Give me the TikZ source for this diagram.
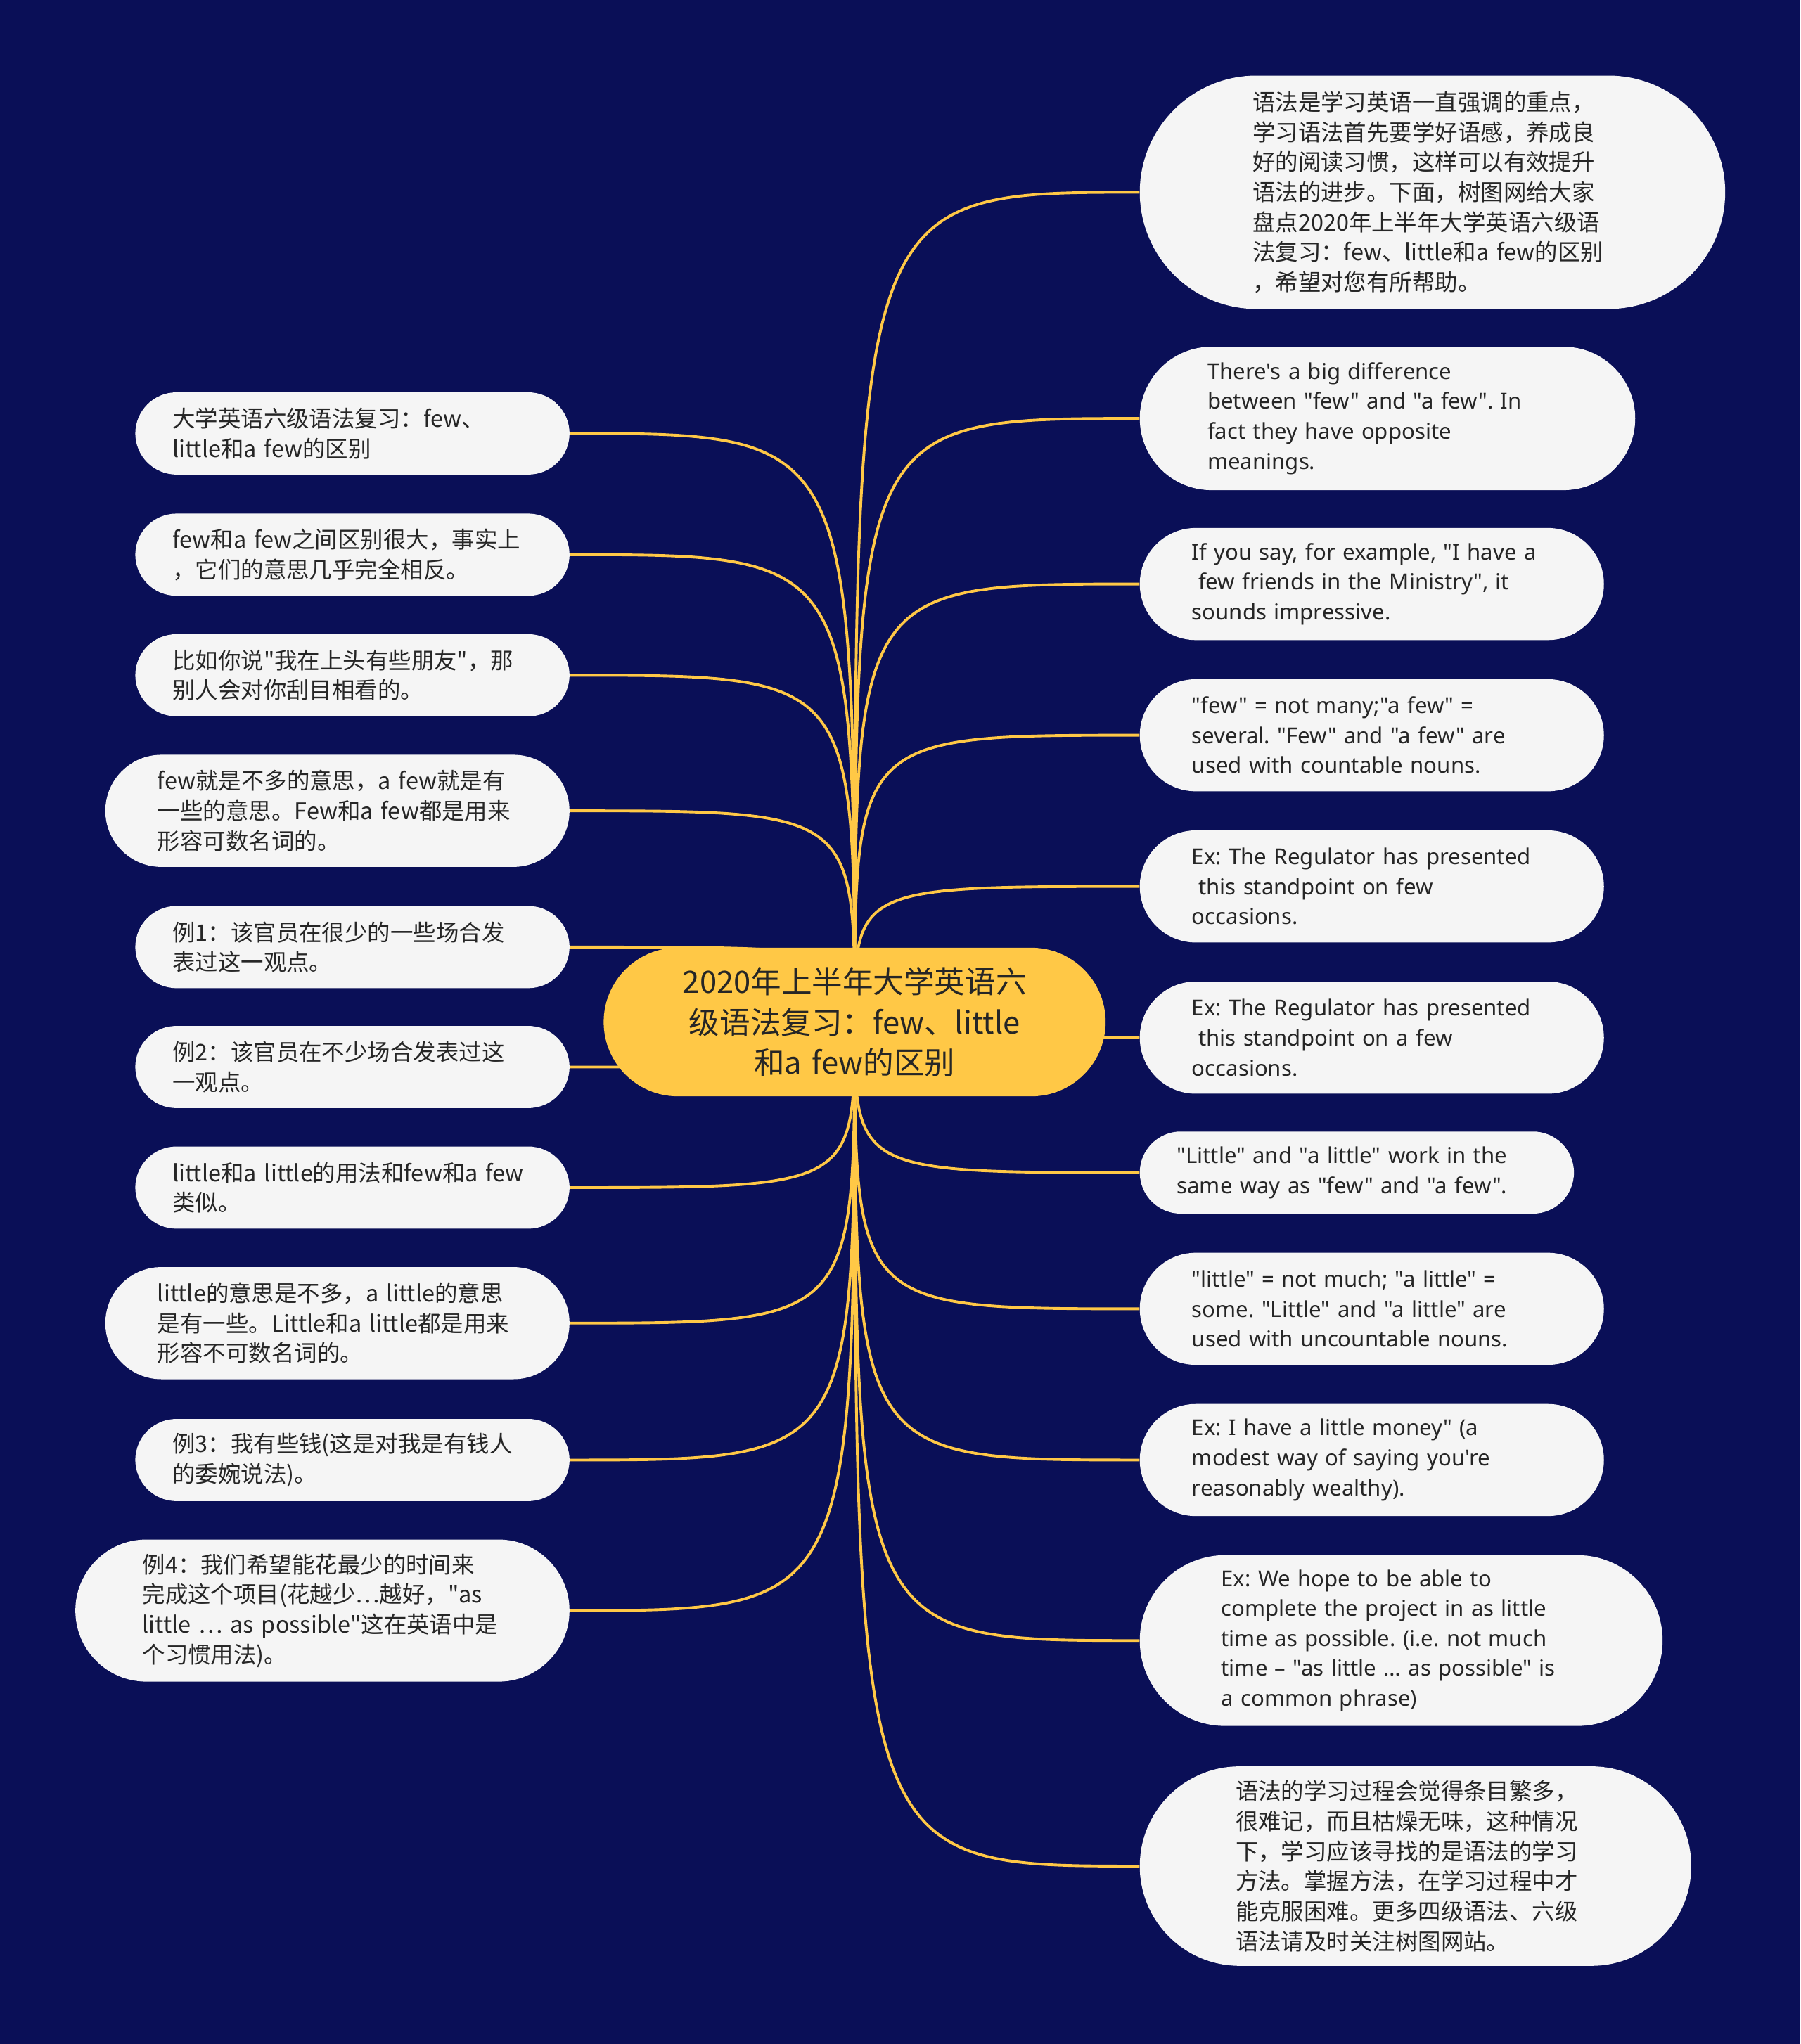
\documentclass[tikz,border=0pt]{standalone}
\usepackage{fontspec}
\usetikzlibrary{shapes.misc,backgrounds}
\newfontfamily\cjkfont{Noto Sans CJK SC}
\newfontfamily\engfont{Noto Sans}
\definecolor{bgnavy}{RGB}{10,15,87}
\definecolor{gold}{RGB}{255,200,70}
\definecolor{leafgray}{RGB}{245,245,245}
\definecolor{ink}{RGB}{38,38,38}
\tikzset{
  root/.style={rounded rectangle, fill=gold, text=ink, inner xsep=0pt, inner ysep=0pt,
    text width=271pt, align=center, minimum height=114pt, minimum width=385pt,
    font=\cjkfont\fontsize{23.5}{31}\selectfont},
  leaf/.style={rounded rectangle, fill=leafgray, text=ink, inner xsep=0pt, inner ysep=0pt,
    text width=276pt, align=left, minimum height=#1, minimum width=270pt+#1,
    font=\cjkfont\fontsize{17.5}{23}\selectfont},
  eng/.style={font=\engfont\fontsize{16.8}{23}\selectfont\frenchspacing},
  link/.style={draw=gold, line width=2.1pt},
}

\begin{document}
\begin{tikzpicture}[x=1pt,y=-1pt]
    % 中心主题
    \node[root] (root) at (655.5,784) {2020年上半年大学英语六\\级语法复习：few、little\\和a few的区别};

    % 左侧分支
    \node[leaf=63pt, anchor=east] (l1) at (437,332.5) {大学英语六级语法复习：few、\\little和a few的区别};
    \node[leaf=63pt, anchor=east] (l2) at (437,425.5) {few和a few之间区别很大，事实上\\，它们的意思几乎完全相反。};
    \node[leaf=63pt, anchor=east] (l3) at (437,518) {比如你说"我在上头有些朋友"，那\\别人会对你刮目相看的。};
    \node[leaf=86pt, anchor=east] (l4) at (437,622) {few就是不多的意思，a few就是有\\一些的意思。Few和a few都是用来\\形容可数名词的。};
    \node[leaf=63pt, anchor=east] (l5) at (437,726.5) {例1：该官员在很少的一些场合发\\表过这一观点。};
    \node[leaf=63pt, anchor=east] (l6) at (437,818.5) {例2：该官员在不少场合发表过这\\一观点。};
    \node[leaf=63pt, anchor=east] (l7) at (437,911) {little和a little的用法和few和a few\\类似。};
    \node[leaf=86pt, anchor=east] (l8) at (437,1015) {little的意思是不多，a little的意思\\是有一些。Little和a little都是用来\\形容不可数名词的。};
    \node[leaf=63pt, anchor=east] (l9) at (437,1120) {例3：我有些钱(这是对我是有钱人\\的委婉说法)。};
    \node[leaf=109pt, anchor=east] (l10) at (437,1235.5) {例4：我们希望能花最少的时间来\\完成这个项目(花越少…越好，"as\\little … as possible"这在英语中是\\个习惯用法)。};

    % 右侧分支
    \node[leaf=179pt, anchor=west] (r1) at (874,147.5) {语法是学习英语一直强调的重点，\\学习语法首先要学好语感，养成良\\好的阅读习惯，这样可以有效提升\\语法的进步。下面，树图网给大家\\盘点2020年上半年大学英语六级语\\法复习：few、little和a few的区别\\，希望对您有所帮助。};
    \node[leaf=110pt, eng, anchor=west] (r2) at (874,321) {There's a big difference\\between "few" and "a few". In\\fact they have opposite\\meanings.};
    \node[leaf=86pt, eng, anchor=west] (r3) at (874,448) {If you say, for example, "I have a\\\hspace*{0.3em}few friends in the Ministry", it\\sounds impressive.};
    \node[leaf=86pt, eng, anchor=west] (r4) at (874,564) {"few" = not many;"a few" =\\several. "Few" and "a few" are\\used with countable nouns.};
    \node[leaf=86pt, eng, anchor=west] (r5) at (874,680) {Ex: The Regulator has presented\\\hspace*{0.3em}this standpoint on few\\occasions.};
    \node[leaf=86pt, eng, anchor=west] (r6) at (874,796) {Ex: The Regulator has presented\\\hspace*{0.3em}this standpoint on a few\\occasions.};
    \node[leaf=63pt, eng, anchor=west] (r7) at (874,899.5) {"Little" and "a little" work in the\\same way as "few" and "a few".};
    \node[leaf=86pt, eng, anchor=west] (r8) at (874,1004) {"little" = not much; "a little" =\\some. "Little" and "a little" are\\used with uncountable nouns.};
    \node[leaf=86pt, eng, anchor=west] (r9) at (874,1120) {Ex: I have a little money" (a\\modest way of saying you're\\reasonably wealthy).};
    \node[leaf=131pt, eng, anchor=west] (r10) at (874,1258.5) {Ex: We hope to be able to\\complete the project in as little\\time as possible. (i.e. not much\\time – "as little … as possible" is\\a common phrase)};
    \node[leaf=153pt, anchor=west] (r11) at (874,1431.5) {语法的学习过程会觉得条目繁多，\\很难记，而且枯燥无味，这种情况\\下，学习应该寻找的是语法的学习\\方法。掌握方法，在学习过程中才\\能克服困难。更多四级语法、六级\\语法请及时关注树图网站。};

    % 背景与连线
    \begin{scope}[on background layer]
        \fill[bgnavy] (0,0) rectangle (1381,1568);
        \foreach \n in {l1,l2,l3,l4,l5,l6,l7,l8,l9,l10}
            \draw[link] (root.center) .. controls (root.center |- \n.east) .. (\n.east);
        \foreach \n in {r1,r2,r3,r4,r5,r6,r7,r8,r9,r10,r11}
            \draw[link] (root.center) .. controls (root.center |- \n.west) .. (\n.west);
    \end{scope}
    \useasboundingbox (0,0) rectangle (1381,1568);
\end{tikzpicture}
\end{document}
